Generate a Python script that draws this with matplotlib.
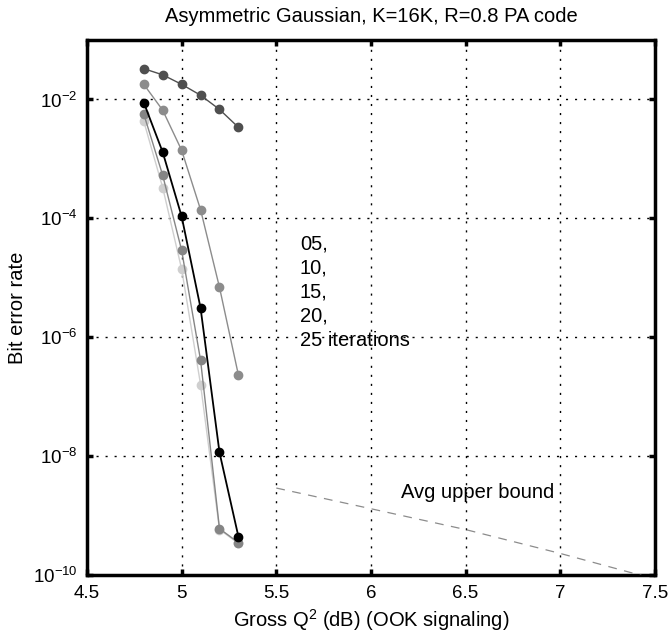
import matplotlib
matplotlib.use("Agg")
import matplotlib.pyplot as plt
import numpy as np

plt.rcParams['font.family'] = ['Liberation Sans', 'DejaVu Sans']
plt.rcParams['mathtext.fontset'] = 'custom'
plt.rcParams['mathtext.rm'] = 'Liberation Sans'
plt.rcParams['mathtext.it'] = 'Liberation Sans:italic'
plt.rcParams['mathtext.bf'] = 'Liberation Sans:bold'

# Data
q2 = [4.8, 4.9, 5.0, 5.1, 5.2, 5.3]
ber_05 = [3.3e-2, 2.6e-2, 1.8e-2, 1.18e-2, 6.8e-3, 3.4e-3]
ber_10 = [1.8e-2, 6.6e-3, 1.4e-3, 1.4e-4, 6.9e-6, 2.3e-7]
ber_15 = [8.9e-3, 1.3e-3, 1.08e-4, 3.1e-6, 1.15e-8, 4.4e-10]
ber_20 = [5.7e-3, 5.3e-4, 2.9e-5, 4.1e-7, 6.0e-10, 3.5e-10]
ber_25 = [4.3e-3, 3.3e-4, 1.4e-5, 1.6e-7, 5.8e-10, 3.4e-10]
bound_q2 = [5.5, 6.0, 6.5, 7.0, 7.5]
bound_ber = [2.9e-9, 1.3e-9, 5.8e-10, 2.3e-10, 8.5e-11]

series = [
    (ber_05, '#4f4f4f', 1.0),
    (ber_10, '#8c8c8c', 1.0),
    (ber_25, '#cfcfcf', 1.0),
    (ber_20, '#858585', 1.0),
    (ber_15, '#000000', 1.3),
]

fig = plt.figure(figsize=(6.69, 6.36), dpi=100)
ax = fig.add_axes([0.130, 0.096, 0.849, 0.841])

for ys, c, lw in series:
    ax.semilogy(q2, ys, '-o', color=c, lw=lw, markersize=6, markeredgecolor=c,
                markerfacecolor=c, clip_on=False, zorder=3)

ax.semilogy(bound_q2, bound_ber, color='#8c8c8c', lw=0.9, dashes=(7, 6), zorder=3)

ax.set_xlim(4.5, 7.5)
ax.set_ylim(1e-10, 1e-1)
ax.set_xticks([4.5, 5, 5.5, 6, 6.5, 7, 7.5])
ax.set_xticklabels(['4.5', '5', '5.5', '6', '6.5', '7', '7.5'])
ax.set_yticks([1e-10, 1e-8, 1e-6, 1e-4, 1e-2])
ax.set_yticklabels([r'$10^{-10}$', r'$10^{-8}$', r'$10^{-6}$', r'$10^{-4}$', r'$10^{-2}$'])
ax.minorticks_off()
ax.tick_params(direction='in', length=4, width=2.5, labelsize=13.5, top=True, right=True, pad=7)

ax.grid(True, which='major', color='black', linestyle=(0, (1.5, 5)), lw=1.0)
for s in ax.spines.values():
    s.set_linewidth(2.5)

ax.set_title('Asymmetric Gaussian, K=16K, R=0.8 PA code', fontsize=14.5, pad=13)
ax.set_xlabel(r'Gross Q$^2$ (dB) (OOK signaling)', fontsize=14.5, labelpad=4)
ax.set_ylabel('Bit error rate', fontsize=14.5, labelpad=4)

ax.text(5.625, 5.3e-5, '05,\n10,\n15,\n20,\n25 iterations', fontsize=14.5,
        va='top', ha='left', linespacing=1.33)
ax.text(6.16, 2.4e-9, 'Avg upper bound', fontsize=14.5, va='center', ha='left')

fig.savefig('out.png', dpi=100)
